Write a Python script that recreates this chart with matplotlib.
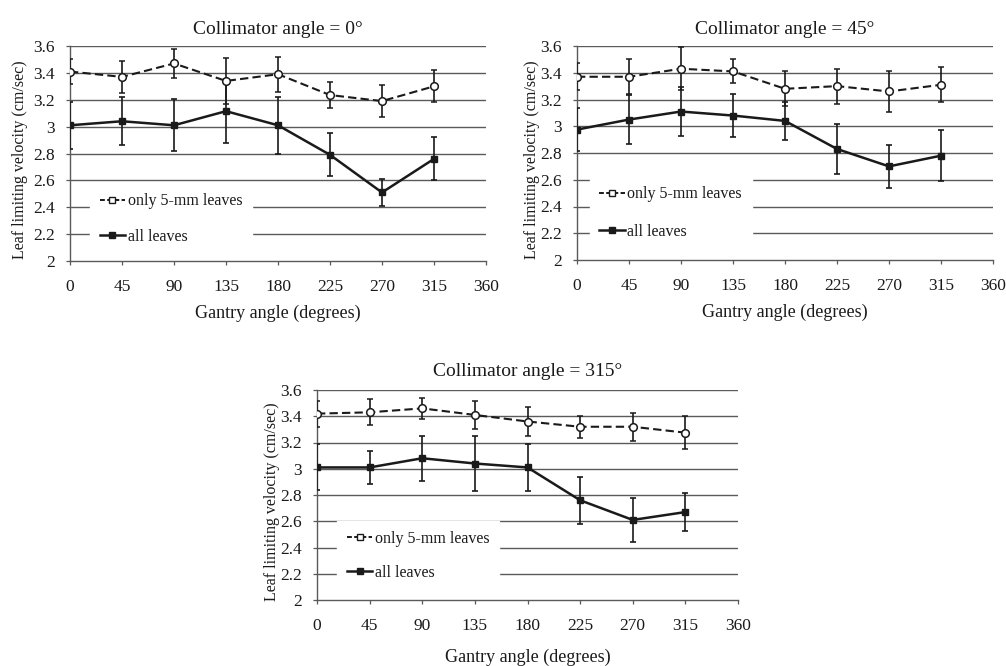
import matplotlib
matplotlib.use("Agg")
import matplotlib.pyplot as plt
from matplotlib.lines import Line2D

plt.rcParams['font.family'] = ['Liberation Serif', 'DejaVu Serif']

gantry = [0, 45, 90, 135, 180, 225, 270, 315]
xticks = [0, 45, 90, 135, 180, 225, 270, 315, 360]
yticks = [2, 2.2, 2.4, 2.6, 2.8, 3, 3.2, 3.4, 3.6]
ytick_labels = ["2", "2.2", "2.4", "2.6", "2.8", "3", "3.2", "3.4", "3.6"]

titles = ["Collimator angle = 0°", "Collimator angle = 45°", "Collimator angle = 315°"]

# Collimator 0
c0_small = [3.41, 3.37, 3.47, 3.34, 3.39, 3.235, 3.19, 3.30]
c0_small_err = [0.095, 0.12, 0.11, 0.17, 0.13, 0.10, 0.12, 0.12]
c0_all = [3.01, 3.04, 3.01, 3.115, 3.01, 2.79, 2.51, 2.76]
c0_all_err = [0.175, 0.18, 0.195, 0.24, 0.21, 0.16, 0.10, 0.16]

# Collimator 45
c45_small = [3.37, 3.37, 3.43, 3.41, 3.28, 3.30, 3.26, 3.31]
c45_small_err = [0.10, 0.13, 0.16, 0.09, 0.13, 0.13, 0.15, 0.13]
c45_all = [2.975, 3.05, 3.11, 3.08, 3.04, 2.83, 2.70, 2.78]
c45_all_err = [0.16, 0.18, 0.18, 0.16, 0.14, 0.19, 0.16, 0.19]

# Collimator 315
c315_small = [3.42, 3.43, 3.46, 3.41, 3.36, 3.32, 3.32, 3.275]
c315_small_err = [0.10, 0.10, 0.08, 0.11, 0.11, 0.085, 0.105, 0.125]
c315_all = [3.01, 3.01, 3.08, 3.04, 3.01, 2.76, 2.61, 2.67]
c315_all_err = [0.175, 0.125, 0.17, 0.21, 0.18, 0.18, 0.165, 0.145]

panels = [
    (c0_small, c0_small_err, c0_all, c0_all_err),
    (c45_small, c45_small_err, c45_all, c45_all_err),
    (c315_small, c315_small_err, c315_all, c315_all_err),
]

W, H = 1006, 666
fig = plt.figure(figsize=(W / 100, H / 100), dpi=100)

# axes boxes in pixel coords: left, right, top, bottom
boxes = [(70, 486, 46, 261), (577, 993, 46, 260), (317, 738, 390, 600)]
leg_anchor = [(0.048, 0.03), (0.031, 0.05), (0.048, 0.045)]
leg_spacing = [1.22, 1.35, 1.12]
xlabel_y = [-0.205, -0.205, -0.232]
ylabel_x = [-0.10, -0.09, -0.088]
title_pad = [9, 9, 10]

ink = '#1a1a1a'
gridc = '#5a5a5a'

for i, (box, data) in enumerate(zip(boxes, panels)):
    l, r, t, b = box
    ax = fig.add_axes([l / W, 1 - b / H, (r - l) / W, (b - t) / H])
    small, small_err, allv, all_err = data
    ax.set_xlim(0, 360)
    ax.set_ylim(2, 3.6)
    for yv in yticks[1:]:
        ax.axhline(yv, color=gridc, lw=1.0, zorder=0)
    ax.errorbar(gantry, small, yerr=small_err, color=ink, ls='--', lw=1.5,
                marker='o', ms=5.5, mfc='white', mec=ink, mew=1.1,
                capsize=2.5, elinewidth=1.2, capthick=1.2, zorder=3,
                dashes=(4, 2))
    ax.errorbar(gantry, allv, yerr=all_err, color=ink, ls='-', lw=1.8,
                marker='s', ms=4.5, mfc=ink, mec=ink,
                capsize=2.5, elinewidth=1.2, capthick=1.2, zorder=3)
    ax.set_xticks(xticks)
    ax.set_xticklabels([str(v) for v in xticks])
    ax.set_yticks(yticks)
    ax.set_yticklabels(ytick_labels)
    ax.tick_params(axis='both', direction='out', length=3, width=0.9,
                   color=gridc, labelsize=12.5, labelcolor=ink)
    ax.tick_params(axis='x', pad=10)
    ax.tick_params(axis='y', pad=8)
    for s in ['top', 'right']:
        ax.spines[s].set_visible(False)
    for s in ['left', 'bottom']:
        ax.spines[s].set_color(gridc)
        ax.spines[s].set_linewidth(1.0)
    ax.set_title(titles[i], fontsize=14, color=ink, pad=title_pad[i])
    ax.set_xlabel("Gantry angle (degrees)", fontsize=13, color=ink)
    ax.xaxis.set_label_coords(0.5, xlabel_y[i])
    ax.set_ylabel("Leaf limiting velocity (cm/sec)", fontsize=11.5, color=ink)
    ax.yaxis.set_label_coords(ylabel_x[i], 0.47)
    handles = [
        Line2D([0], [0], color=ink, ls='--', lw=1.4, marker='s', ms=4,
               mfc='white', mec=ink, dashes=(2.5, 1.2)),
        Line2D([0], [0], color=ink, ls='-', lw=1.8, marker='s', ms=4,
               mfc=ink, mec=ink),
    ]
    leg = ax.legend(handles, ["only 5-mm leaves", "all leaves"],
                    loc='lower left', bbox_to_anchor=leg_anchor[i],
                    frameon=True, facecolor='white', edgecolor='white',
                    framealpha=1, fancybox=False, fontsize=11.5,
                    handlelength=1.6, handletextpad=0.15,
                    labelspacing=leg_spacing[i],
                    borderpad=0.6, borderaxespad=0)
    leg.set_zorder(2)
    for txt in leg.get_texts():
        txt.set_color(ink)

fig.savefig("out.png", dpi=100, facecolor='white')
